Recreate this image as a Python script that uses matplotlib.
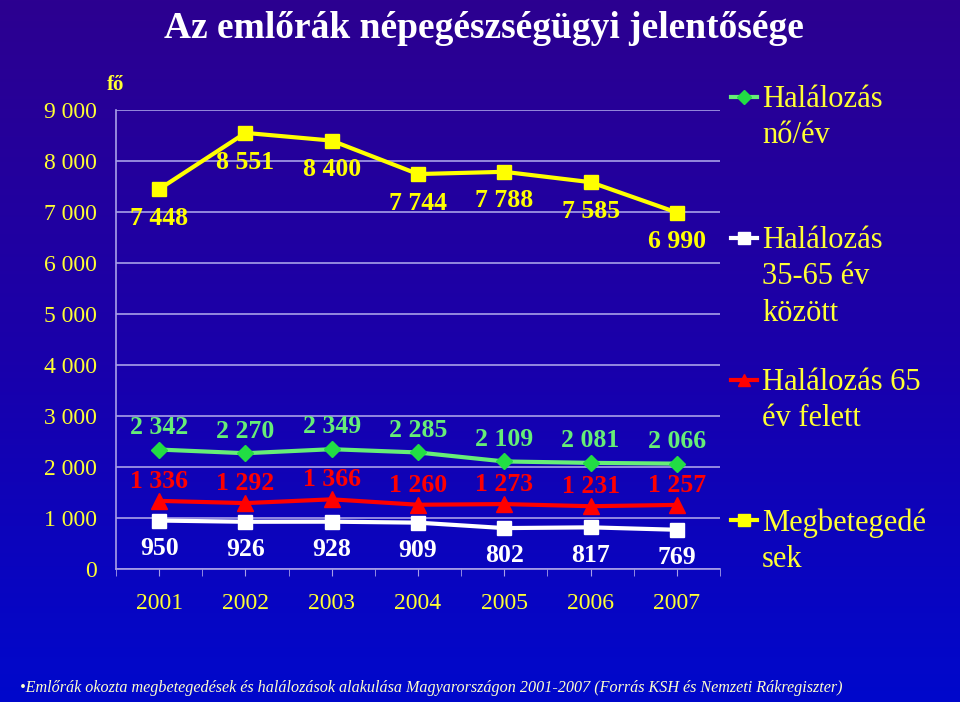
import matplotlib
matplotlib.use("Agg")
import matplotlib.pyplot as plt
import numpy as np
from matplotlib.colors import LinearSegmentedColormap

years = ["2001", "2002", "2003", "2004", "2005", "2006", "2007"]
megbetegedesek = [7448, 8551, 8400, 7744, 7788, 7585, 6990]
halalozas_no = [2342, 2270, 2349, 2285, 2109, 2081, 2066]
halalozas_65 = [1336, 1292, 1366, 1260, 1273, 1231, 1257]
halalozas_35_65 = [950, 926, 928, 909, 802, 817, 769]

legend_labels = ["Halálozás\nnő/év", "Halálozás\n35-65 év\nközött",
                 "Halálozás 65\név felett", "Megbetegedé\nsek"]

YELLOW = "#FFFF00"
GREEN = "#66EE77"
GREEN_MK = "#22DD44"
RED = "#FF0000"
WHITE = "#FFFFFF"
GRID = "#A8A0E8"
TXT = "#FFFF33"

plt.rcParams["font.family"] = ["Liberation Serif", "DejaVu Serif"]

fig = plt.figure(figsize=(9.6, 7.02), dpi=100)

# background gradient
bg = fig.add_axes([0, 0, 1, 1], zorder=-10)
cmap = LinearSegmentedColormap.from_list("bg", ["#2C0090", "#1A00AA", "#0008CC"])
bg.imshow(np.linspace(0, 1, 256).reshape(-1, 1), aspect="auto", cmap=cmap,
          extent=[0, 1, 0, 1], origin="upper")
bg.axis("off")

ax = fig.add_axes([116 / 960, 1 - 569 / 702, 604 / 960, 459 / 702])
ax.set_facecolor("none")

x = np.arange(len(years))


def fmt(v):
    return f"{v:,}".replace(",", " ")


series = [
    (megbetegedesek, YELLOW, YELLOW, "s", 10, -21),
    (halalozas_no, GREEN, GREEN_MK, "D", 8, 16),
    (halalozas_65, RED, RED, "^", 11, 14),
    (halalozas_35_65, WHITE, WHITE, "s", 10, -20),
]

for vals, col, mcol, mk, ms, off in series:
    ax.plot(x, vals, color=col, lw=3, marker=mk, markersize=ms,
            markerfacecolor=mcol, markeredgecolor=mcol, zorder=3)
    for xi, v in zip(x, vals):
        ax.annotate(fmt(v), (xi, v), xytext=(0, off), textcoords="offset points",
                    ha="center", va="center", color=col,
                    fontsize=18.5, fontweight="bold", zorder=4)

ax.set_xlim(-0.5, 6.5)
ax.set_ylim(0, 9000)
ax.set_yticks(range(0, 9001, 1000))
ax.set_yticklabels([fmt(v) for v in range(0, 9001, 1000)])
ax.yaxis.grid(True, color=GRID, lw=1.2)
ax.set_axisbelow(True)
ax.tick_params(axis="y", length=0, pad=14, labelcolor=TXT, labelsize=17)

ax.set_xticks(x)
ax.set_xticklabels(years)
ax.set_xticks(np.arange(-0.5, 7, 1), minor=True)
ax.tick_params(axis="x", which="both", direction="out", length=5, color=GRID,
               labelcolor=TXT, labelsize=17, pad=12)

for side in ["top", "right"]:
    ax.spines[side].set_visible(False)
for side in ["left", "bottom"]:
    ax.spines[side].set_color(GRID)
    ax.spines[side].set_linewidth(1.2)

ax.text(0, 1.054, "fő", transform=ax.transAxes, color=TXT, fontsize=15,
        fontweight="bold", ha="center", va="center")

fig.text(484 / 960, 1 - 29 / 702, "Az emlőrák népegészségügyi jelentősége",
         ha="center", va="center", color="white", fontsize=27, fontweight="bold")

# legend drawn by hand on the right
lg = fig.add_axes([720 / 960, 0, 240 / 960, 1], zorder=5)
lg.set_xlim(720, 960)
lg.set_ylim(702, 0)
lg.axis("off")
leg_style = [
    (GREEN, GREEN_MK, "D", 7),
    (WHITE, WHITE, "s", 9),
    (RED, RED, "^", 9),
    (YELLOW, YELLOW, "s", 9),
]
leg_y = [97, 238, 380, 520]
for (col, mcol, mk, ms), y, lab in zip(leg_style, leg_y, legend_labels):
    lg.plot([731, 757], [y, y], color=col, lw=3)
    lg.plot([744], [y], marker=mk, markersize=ms, color=mcol)
    lg.text(762, y - 12, lab, color=TXT, fontsize=22, ha="left", va="top",
            linespacing=1.33)

fig.text(20 / 960, 1 - 688 / 702,
         "•Emlőrák okozta megbetegedések és halálozások alakulása Magyarországon "
         "2001-2007 (Forrás KSH és Nemzeti Rákregiszter)",
         ha="left", va="center", color="#FFFFCC", fontsize=11.6, fontstyle="italic")

fig.savefig("out.png", dpi=100)
